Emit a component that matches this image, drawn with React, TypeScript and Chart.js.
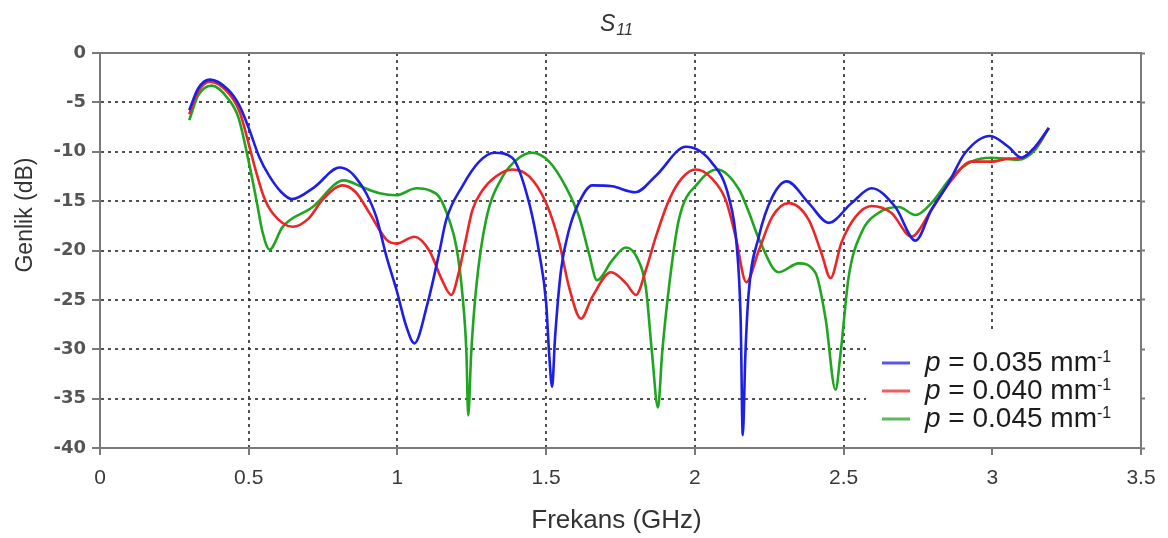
import { useEffect, useRef } from "react";
import { Chart, registerables } from "chart.js";

Chart.register(...registerables);

// p = 0.035 mm^-1
const freq035 = [0.30, 0.33, 0.37, 0.43, 0.47, 0.50, 0.535, 0.57, 0.61, 0.645, 0.72, 0.805, 0.84, 0.862, 0.895, 0.929, 0.963, 0.997, 1.03, 1.057, 1.10, 1.14, 1.164, 1.218, 1.275, 1.326, 1.386, 1.443, 1.477, 1.50, 1.51, 1.52, 1.53, 1.55, 1.577, 1.611, 1.655, 1.722, 1.80, 1.87, 1.97, 2.057, 2.114, 2.141, 2.154, 2.161, 2.17, 2.181, 2.215, 2.26, 2.309, 2.383, 2.45, 2.527, 2.594, 2.674, 2.742, 2.795, 2.852, 2.909, 2.993, 3.054, 3.098, 3.144, 3.19];
const s11_035 = [-5.8, -3.6, -2.7, -3.7, -5.4, -7.6, -10.5, -12.5, -14.1, -14.8, -13.6, -11.6, -12.0, -12.7, -14.2, -16.6, -20.6, -24.0, -27.7, -29.4, -25.5, -20.3, -16.9, -13.5, -11.0, -10.1, -10.6, -15.2, -20.3, -25.3, -30.4, -33.8, -28.8, -22.0, -17.9, -15.1, -13.4, -13.5, -14.1, -12.4, -9.5, -11.1, -14.6, -19.6, -27.0, -38.7, -30.4, -24.3, -18.6, -14.6, -13.0, -15.2, -17.2, -15.2, -13.7, -15.6, -19.0, -15.9, -13.2, -10.1, -8.4, -9.5, -10.6, -9.5, -7.6];

// p = 0.040 mm^-1
const freq040 = [0.30, 0.33, 0.37, 0.43, 0.47, 0.50, 0.52, 0.55, 0.58, 0.648, 0.70, 0.75, 0.816, 0.86, 0.906, 0.963, 0.997, 1.057, 1.107, 1.15, 1.181, 1.208, 1.23, 1.252, 1.286, 1.331, 1.386, 1.443, 1.50, 1.544, 1.577, 1.617, 1.655, 1.718, 1.768, 1.802, 1.835, 1.869, 1.913, 1.956, 2.003, 2.057, 2.104, 2.137, 2.173, 2.215, 2.26, 2.315, 2.383, 2.426, 2.456, 2.493, 2.54, 2.594, 2.661, 2.728, 2.795, 2.862, 2.93, 2.996, 3.054, 3.098, 3.144, 3.19];
const s11_040 = [-6.2, -3.9, -2.9, -4.0, -6.0, -9.2, -11.5, -14.5, -16.2, -17.6, -16.8, -14.8, -13.4, -14.1, -16.2, -18.9, -19.3, -18.6, -20.0, -23.0, -24.5, -22.0, -18.9, -15.9, -13.9, -12.5, -11.8, -12.5, -15.2, -19.2, -23.7, -26.9, -24.7, -22.2, -23.3, -24.5, -22.0, -18.6, -14.9, -12.7, -11.8, -12.7, -14.9, -18.6, -23.2, -20.0, -16.6, -15.2, -16.9, -20.3, -22.8, -19.2, -16.6, -15.5, -16.2, -18.6, -15.9, -12.9, -11.0, -11.0, -10.7, -10.6, -9.6, -7.6];

// p = 0.045 mm^-1
const freq045 = [0.30, 0.33, 0.376, 0.43, 0.465, 0.50, 0.526, 0.547, 0.57, 0.614, 0.715, 0.82, 0.883, 0.94, 0.996, 1.064, 1.107, 1.141, 1.174, 1.198, 1.218, 1.232, 1.238, 1.248, 1.265, 1.298, 1.352, 1.409, 1.453, 1.51, 1.567, 1.611, 1.644, 1.671, 1.722, 1.768, 1.805, 1.835, 1.856, 1.876, 1.89, 1.913, 1.946, 2.013, 2.075, 2.148, 2.18, 2.215, 2.282, 2.349, 2.406, 2.44, 2.473, 2.49, 2.517, 2.56, 2.617, 2.685, 2.742, 2.795, 2.862, 2.93, 2.996, 3.087, 3.144, 3.19];
const s11_045 = [-6.8, -4.3, -3.3, -4.6, -6.5, -11.0, -14.9, -18.2, -19.9, -17.6, -15.6, -12.9, -13.6, -14.2, -14.4, -13.7, -13.9, -14.6, -16.9, -19.6, -24.3, -30.4, -36.7, -30.4, -23.7, -16.9, -12.6, -10.6, -10.1, -11.0, -13.6, -16.6, -20.3, -23.0, -21.0, -19.7, -20.7, -23.7, -30.4, -35.9, -30.4, -23.7, -16.9, -13.1, -11.8, -13.8, -16.0, -18.8, -22.2, -21.3, -22.3, -27.0, -34.1, -30.4, -22.7, -18.2, -16.2, -15.6, -16.4, -15.2, -12.6, -11.0, -10.6, -10.8, -9.8, -7.6];

const seriesValues = ["0.035", "0.040", "0.045"];
const seriesColors = ["#1e1ee6", "#ec2626", "#20a520"];

const xTickLabels = ["0", "0.5", "1", "1.5", "2", "2.5", "3", "3.5"];
const yTickLabels = ["0", "-5", "-10", "-15", "-20", "-25", "-30", "-35", "-40"];

const titleMain = "S";
const titleSub = "11";
const xTitle = "Frekans (GHz)";
const yTitle = "Genlik (dB)";
const legendSymbol = "p";
const legendUnit = "mm";
const legendExp = "-1";

const SANS = "'Liberation Sans', Arial, sans-serif";

const toPoints = (xs: number[], ys: number[]) => xs.map((x, i) => ({ x, y: ys[i] }));

// Title, axis titles and the in-plot legend drawn on the canvas
const annotations = {
  id: "annotations",
  afterDatasetsDraw(chart: any) {
    const { ctx, chartArea } = chart;
    const { left, right, top, bottom } = chartArea;
    ctx.save();

    // legend box in the lower right corner of the plot
    const bx = right - 275;
    const by = bottom - 115;
    ctx.fillStyle = "#ffffff";
    ctx.fillRect(bx, by, right - 1 - bx, bottom - 1 - by);
    chart.data.datasets.forEach((ds: any, i: number) => {
      const ly = bottom - 85 + i * 28;
      ctx.strokeStyle = ds.borderColor;
      ctx.globalAlpha = 0.75;
      ctx.lineWidth = 3;
      ctx.beginPath();
      ctx.moveTo(bx + 16, ly);
      ctx.lineTo(bx + 44, ly);
      ctx.stroke();
      ctx.globalAlpha = 1;
      const base = ly + 8;
      let tx = bx + 59;
      ctx.fillStyle = "#1c1c1c";
      ctx.textBaseline = "alphabetic";
      ctx.textAlign = "left";
      ctx.font = `italic 28px ${SANS}`;
      ctx.fillText(legendSymbol, tx, base);
      tx += ctx.measureText(legendSymbol).width;
      ctx.font = `28px ${SANS}`;
      const body = ` = ${seriesValues[i]} ${legendUnit}`;
      ctx.fillText(body, tx, base);
      tx += ctx.measureText(body).width;
      ctx.font = `16px ${SANS}`;
      ctx.fillText(legendExp, tx, base - 9);
    });

    // chart title with subscript
    ctx.fillStyle = "#333333";
    ctx.textBaseline = "alphabetic";
    ctx.textAlign = "left";
    ctx.font = `italic 23px ${SANS}`;
    const wMain = ctx.measureText(titleMain).width;
    ctx.font = `italic 16px ${SANS}`;
    const wSub = ctx.measureText(titleSub).width;
    const cx = (left + right) / 2 - 4;
    const sx = cx - (wMain + wSub + 1) / 2;
    ctx.font = `italic 23px ${SANS}`;
    ctx.fillText(titleMain, sx, 31);
    ctx.font = `italic 16px ${SANS}`;
    ctx.fillText(titleSub, sx + wMain + 1, 35);

    // axis titles
    ctx.fillStyle = "#333333";
    ctx.textAlign = "center";
    ctx.textBaseline = "middle";
    ctx.font = `26px ${SANS}`;
    ctx.fillText(xTitle, (left + right) / 2 - 4, 521);
    ctx.save();
    ctx.translate(26, top + 162);
    ctx.rotate(-Math.PI / 2);
    ctx.font = `23px ${SANS}`;
    ctx.fillText(yTitle, 0, 0);
    ctx.restore();

    ctx.restore();
  },
};

const gridColor = "rgba(50,50,50,0.85)";
const axisColor = "#7a7a7a";

export default function App() {
  const canvasRef = useRef<HTMLCanvasElement>(null);

  useEffect(() => {
    const canvas = canvasRef.current;
    if (!canvas) return;
    const chart = new Chart(canvas, {
      type: "line",
      data: {
        datasets: [
          { label: seriesValues[0], data: toPoints(freq035, s11_035), borderColor: seriesColors[0] },
          { label: seriesValues[1], data: toPoints(freq040, s11_040), borderColor: seriesColors[1] },
          { label: seriesValues[2], data: toPoints(freq045, s11_045), borderColor: seriesColors[2] },
        ].map((d) => ({
          ...d,
          borderWidth: 2.6,
          pointRadius: 0,
          fill: false,
          cubicInterpolationMode: "monotone" as const,
        })),
      },
      options: {
        animation: false,
        responsive: true,
        maintainAspectRatio: false,
        layout: { padding: { top: 53, right: 27, left: 0, bottom: 0 } },
        plugins: {
          legend: { display: false },
          tooltip: { enabled: false },
          title: { display: false },
        },
        scales: {
          x: {
            type: "linear",
            position: "bottom",
            min: 0,
            max: 3.5,
            afterFit: (s: any) => {
              s.height = 90;
            },
            ticks: {
              stepSize: 0.5,
              autoSkip: false,
              maxRotation: 0,
              padding: 11,
              color: "#3a3a3a",
              font: { family: SANS, size: 21 },
              callback: (v: any) => xTickLabels[Math.round(Number(v) / 0.5)] ?? "",
            },
            grid: {
              color: gridColor,
              lineWidth: 2,
              tickLength: 7,
              tickColor: axisColor,
              tickWidth: 2,
            },
            border: { display: true, color: axisColor, width: 2, dash: [3, 4] },
          },
          xT: {
            type: "linear",
            position: "top",
            min: 0,
            max: 3.5,
            afterFit: (s: any) => {
              s.height = 0;
            },
            ticks: { display: false },
            grid: { display: false },
            border: { display: true, color: axisColor, width: 2 },
          },
          y: {
            type: "linear",
            position: "left",
            min: -40,
            max: 0,
            afterFit: (s: any) => {
              s.width = 100;
            },
            ticks: {
              stepSize: 5,
              padding: 6,
              color: "#555555",
              font: { family: "'DejaVu Sans', Verdana, sans-serif", size: 18, weight: "bold" },
              callback: (v: any) => yTickLabels[Math.round(-Number(v) / 5)] ?? "",
            },
            grid: {
              color: gridColor,
              lineWidth: 2,
              tickLength: 8,
              tickColor: axisColor,
              tickWidth: 2,
            },
            border: { display: true, color: axisColor, width: 2, dash: [3, 4] },
          },
          yR: {
            type: "linear",
            position: "right",
            min: -40,
            max: 0,
            afterFit: (s: any) => {
              s.width = 0;
            },
            ticks: { display: false, stepSize: 5 },
            grid: { drawOnChartArea: false, tickLength: 4, tickColor: axisColor, tickWidth: 2 },
            border: { display: true, color: axisColor, width: 2 },
          },
        },
      },
      plugins: [annotations],
    });
    return () => chart.destroy();
  }, []);

  return (
    <div style={{ position: "fixed", left: 0, top: 0, width: 1168, height: 538, background: "#ffffff" }}>
      <canvas ref={canvasRef} />
    </div>
  );
}
